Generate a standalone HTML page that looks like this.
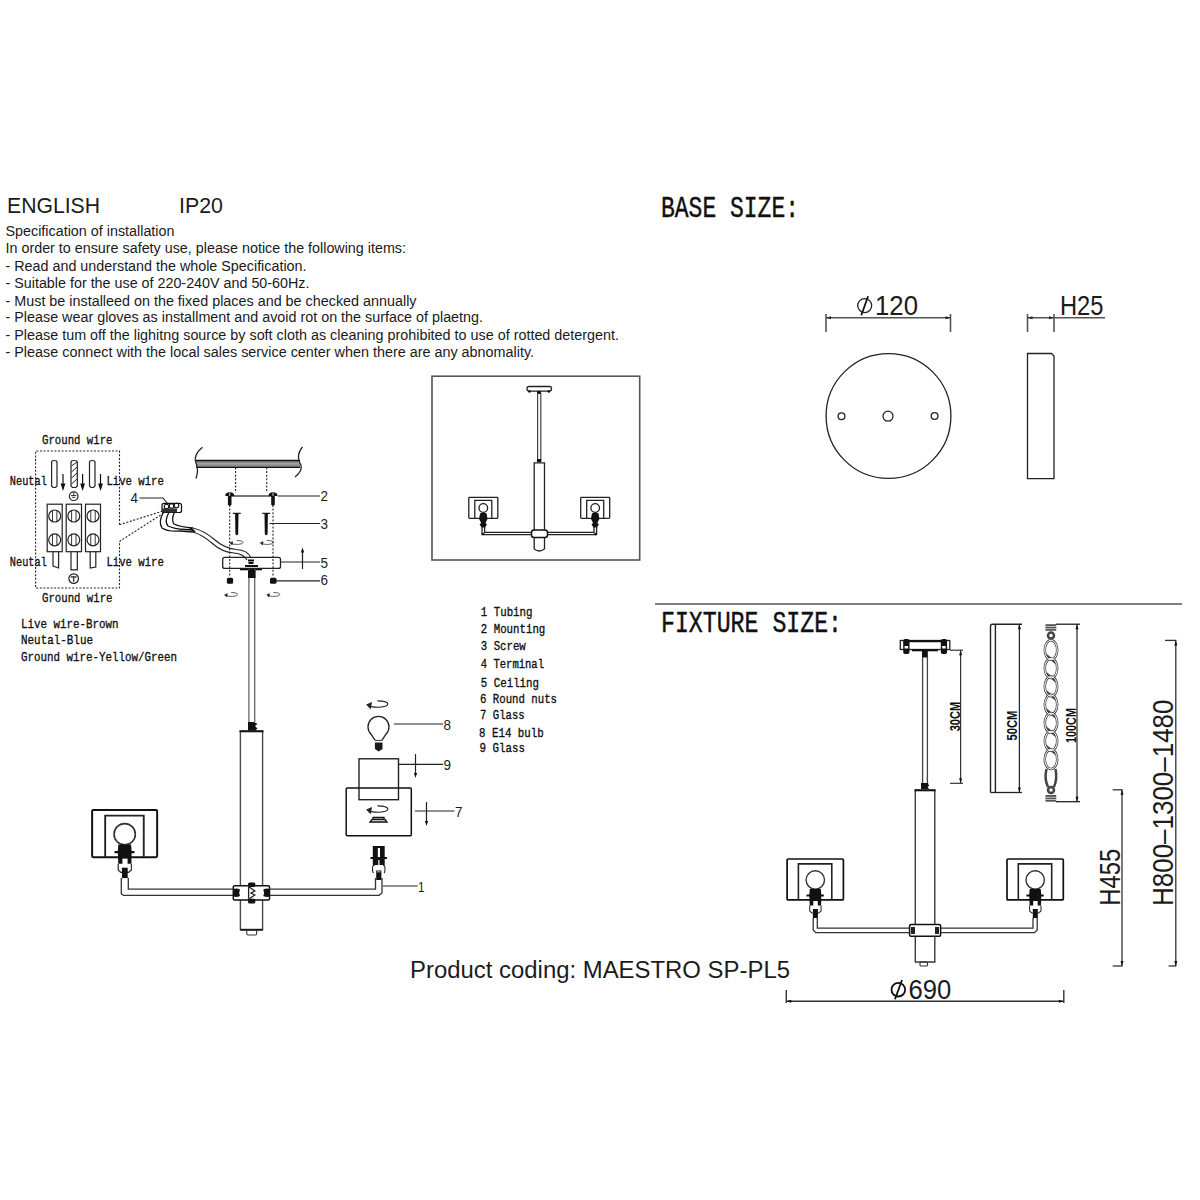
<!DOCTYPE html>
<html><head><meta charset="utf-8">
<style>
html,body{margin:0;padding:0;background:#fff;width:1200px;height:1200px;overflow:hidden}
svg{display:block}
.s{font-family:"Liberation Sans",sans-serif;fill:#1c1c1c}
.m{font-family:"Liberation Mono",monospace;fill:#111;stroke:#111;stroke-width:0.45}
.b{font-family:"Liberation Sans",sans-serif;font-weight:bold;fill:#111}
.mb{font-family:"Liberation Mono",monospace;font-weight:normal;fill:#111;stroke:#111;stroke-width:0.35}
.ln{stroke:#222;stroke-width:1.3;fill:none}
.gl{stroke:#555;stroke-width:1.6;fill:none}
.dt{stroke:#222;stroke-width:1.1;fill:none;stroke-dasharray:2 1.6}
</style></head>
<body>
<svg width="1200" height="1200" viewBox="0 0 1200 1200">
<rect width="1200" height="1200" fill="#fff"/>

<!-- ===== header text block ===== -->
<g class="s">
<text x="7" y="212.5" font-size="22" textLength="93" lengthAdjust="spacingAndGlyphs">ENGLISH</text>
<text x="179" y="212.5" font-size="22" textLength="44" lengthAdjust="spacingAndGlyphs">IP20</text>
<g font-size="14" fill="#1a1a1a">
<text x="5.5" y="236.4" textLength="169" lengthAdjust="spacingAndGlyphs">Specification of installation</text>
<text x="5.5" y="253" textLength="400.5" lengthAdjust="spacingAndGlyphs">In order to ensure safety use, please notice the following items:</text>
<text x="5.5" y="271" textLength="301" lengthAdjust="spacingAndGlyphs">- Read and understand the whole Specification.</text>
<text x="5.5" y="288" textLength="304" lengthAdjust="spacingAndGlyphs">- Suitable for the use of 220-240V and 50-60Hz.</text>
<text x="5.5" y="305.6" textLength="411" lengthAdjust="spacingAndGlyphs">- Must be installeed on the fixed places and be checked annually</text>
<text x="5.5" y="322.4" textLength="477.5" lengthAdjust="spacingAndGlyphs">- Please wear gloves as installment and avoid rot on the surface of plaetng.</text>
<text x="5.5" y="339.5" textLength="613.5" lengthAdjust="spacingAndGlyphs">- Please tum off the lighitng source by soft cloth as cleaning prohibited to use of rotted detergent.</text>
<text x="5.5" y="357" textLength="528.5" lengthAdjust="spacingAndGlyphs">- Please connect with the local sales service center when there are any abnomality.</text>
</g>
</g>

<!-- ===== BASE SIZE ===== -->
<text class="m" x="661" y="217.3" font-size="29" textLength="138" lengthAdjust="spacingAndGlyphs">BASE SIZE:</text>

<!-- base plate top view -->
<g>
<ellipse cx="864.7" cy="305.6" rx="7" ry="7" class="ln" stroke="#111" stroke-width="1.8"/>
<line x1="868.1" y1="296.3" x2="861.3" y2="315.3" stroke="#111" stroke-width="1.8"/>
<text class="s" x="875" y="315.3" font-size="27.8" textLength="43" lengthAdjust="spacingAndGlyphs">120</text>
<line x1="826" y1="317.8" x2="951" y2="317.8" class="gl" stroke-width="1.8"/>
<line x1="826" y1="314" x2="826" y2="332" class="gl" stroke-width="1.6"/>
<line x1="950.5" y1="314" x2="950.5" y2="332" class="gl" stroke-width="1.6"/>
<path d="M826 317.8 l5 -1.5 v3z M950.5 317.8 l-5 -1.5 v3z" fill="#222"/>
<circle cx="888.5" cy="416" r="62.4" class="ln" stroke="#333" stroke-width="1.5"/>
<circle cx="841.5" cy="416.2" r="3.4" class="ln" stroke-width="1.2"/>
<circle cx="888" cy="416.2" r="5" class="ln" stroke-width="1.2"/>
<circle cx="934.6" cy="416" r="3.4" class="ln" stroke-width="1.2"/>
</g>
<!-- base side view -->
<g>
<text class="s" x="1060" y="315.3" font-size="27.5" textLength="43.5" lengthAdjust="spacingAndGlyphs">H25</text>
<line x1="1027.5" y1="317.8" x2="1105" y2="317.8" class="gl" stroke-width="1.8"/>
<line x1="1027.5" y1="314" x2="1027.5" y2="332" class="gl" stroke-width="1.6"/>
<line x1="1054" y1="314" x2="1054" y2="332" class="gl" stroke-width="1.6"/>
<path d="M1027.5 317.8 l5 -1.5 v3z M1054 317.8 l-5 -1.5 v3z" fill="#222"/>
<path d="M1027.5 353.5 H1051.5 L1054 356 V478.6 H1027.5 Z" class="ln" stroke="#333" stroke-width="1.5"/>
</g>

<!-- ===== small installed view box ===== -->
<g>
<rect x="432" y="376.2" width="207.7" height="183.8" class="gl" stroke-width="1.7"/>
<rect x="527" y="386.5" width="24.5" height="4.6" rx="2" class="ln" stroke="#111" stroke-width="1.4"/>
<circle cx="529.5" cy="391.5" r="1.3" fill="#111"/><circle cx="548.8" cy="391.5" r="1.3" fill="#111"/>
<rect x="537" y="391" width="4" height="3" fill="#111"/>
<line x1="537.6" y1="393" x2="537.6" y2="460" stroke="#444" stroke-width="1.2"/>
<line x1="540.8" y1="393" x2="540.8" y2="460" stroke="#444" stroke-width="1.2"/>
<rect x="537" y="459" width="4.3" height="3" fill="#111"/>
<path d="M534.2 549 V462.8 H544.5 V549" class="ln" stroke="#333" stroke-width="1.3"/>
<path d="M534.2 549 Q539.3 553 544.5 549" class="ln" stroke="#111" stroke-width="1.6"/>
<rect x="531.5" y="530" width="16" height="7.5" rx="2.5" fill="#fff" stroke="#111" stroke-width="1.5"/>
<!-- arms -->
<path d="M482 527 V534.6 H531.5 M547.5 534.6 H596.6 V527 M484.6 527 V532.4 H531.5 M547.5 532.4 H594 V527" class="ln" stroke="#555" stroke-width="1.1"/>
<circle cx="483.3" cy="534" r="1.2" fill="#111"/><circle cx="595.3" cy="534" r="1.2" fill="#111"/>
<!-- left shade -->
<rect x="468.8" y="497.3" width="29" height="21" rx="0.8" class="ln" stroke="#111" stroke-width="2"/>
<path d="M474.8 518 V500.3 H491.8 V518" class="ln" stroke="#222" stroke-width="1.7"/>
<circle cx="483.3" cy="508" r="4.3" class="ln" stroke="#111" stroke-width="1.3"/>
<path d="M480 513.5 Q483.3 511.5 486.6 513.5 L487.5 519 L486.2 521.5 L485.5 523 L487 524.5 L485 527.5 H481.6 L479.6 524.5 L481.1 523 L480.4 521.5 L479.1 519 Z" fill="#111"/>
<!-- right shade -->
<rect x="580.7" y="497.3" width="29" height="21" rx="0.8" class="ln" stroke="#111" stroke-width="2"/>
<path d="M586.7 518 V500.3 H603.7 V518" class="ln" stroke="#222" stroke-width="1.7"/>
<circle cx="595.2" cy="508" r="4.3" class="ln" stroke="#111" stroke-width="1.3"/>
<path d="M591.9 513.5 Q595.2 511.5 598.5 513.5 L599.4 519 L598.1 521.5 L597.4 523 L598.9 524.5 L596.9 527.5 H593.5 L591.5 524.5 L593 523 L592.3 521.5 L591 519 Z" fill="#111"/>
</g>

<!-- ===== FIXTURE SIZE ===== -->
<line x1="655" y1="604" x2="1182" y2="604" class="gl" stroke-width="1.8"/>
<text class="m" x="661" y="632.3" font-size="29" textLength="181" lengthAdjust="spacingAndGlyphs">FIXTURE SIZE:</text>

<defs>
<!-- shade+socket symbol, origin at bulb centre, fixture-size scale -->
<g id="shade">
<rect x="-28.2" y="-21" width="56.3" height="40.9" rx="1" fill="none" stroke="#111" stroke-width="1.7"/>
<path d="M-16.9 19.9 V-16.1 H16.5 V19.9" fill="none" stroke="#222" stroke-width="1.6"/>
<circle cx="0" cy="0" r="9.2" fill="none" stroke="#333" stroke-width="1.4"/>
<use href="#sock"/>
</g>
<g id="sock">
<path d="M-5.5 9 H5.5 L6 14.5 H8.5 V16.5 H6 L5.8 25.5 H2.5 V21 H-2 V25.5 H-5.6 L-5.9 16.5 H-8.8 V14.5 H-6 Z" fill="#111"/>
<path d="M-5.6 25.5 V31 L-3.5 33 H3.5 L5.8 31 V25.5" fill="none" stroke="#333" stroke-width="1.1"/>
<rect x="-2.4" y="29" width="5" height="9" fill="#111"/>
</g>
</defs>

<!-- ===== fixture-size drawing ===== -->
<g>
<!-- canopy -->
<rect x="900.3" y="640.5" width="49.5" height="9" fill="none" stroke="#222" stroke-width="1.3"/>
<line x1="905" y1="641.2" x2="945" y2="641.2" stroke="#111" stroke-width="2.2"/>
<line x1="912" y1="650.3" x2="938" y2="650.3" stroke="#111" stroke-width="2"/>
<rect x="903.2" y="639" width="6.3" height="15" rx="2" fill="#111"/>
<rect x="940.8" y="639" width="6.3" height="15" rx="2" fill="#111"/>
<rect x="904.6" y="646" width="3.5" height="2.5" fill="#fff"/>
<rect x="942.2" y="646" width="3.5" height="2.5" fill="#fff"/>
<rect x="922" y="650" width="5.8" height="7.5" fill="#111"/>
<!-- rod -->
<line x1="922.6" y1="657" x2="922.6" y2="784" stroke="#444" stroke-width="1.3"/>
<line x1="927.4" y1="657" x2="927.4" y2="784" stroke="#444" stroke-width="1.3"/>
<path d="M921 783 H928 L929 786 L927.5 787 L929 789 H921 Z" fill="#111"/>
<!-- tube -->
<path d="M915.3 962 V790.3 H934.8 V962 Z" fill="none" stroke="#3a3a3a" stroke-width="1.4"/>
<line x1="914.5" y1="790.3" x2="935.5" y2="790.3" stroke="#111" stroke-width="2"/>
<rect x="920" y="962" width="7.5" height="4" rx="1" fill="none" stroke="#333" stroke-width="1.1"/>
<!-- arms -->
<path d="M813.2 918 V930 L815.8 932.6 H909.5 M940.8 932.6 H1034.5 L1037.2 930 V918" fill="none" stroke="#333" stroke-width="1.3"/>
<path d="M817.3 918 V928.2 H909.5 M940.8 928.2 H1033 V918" fill="none" stroke="#333" stroke-width="1.3"/>
<!-- collar -->
<rect x="909.6" y="924.6" width="31" height="11.6" rx="1.2" fill="#fff" stroke="#111" stroke-width="1.5"/>
<rect x="911" y="927" width="4" height="7" fill="#222"/>
<rect x="935" y="927" width="4" height="7" fill="#222"/>
<use href="#shade" transform="translate(815.3 880)"/>
<use href="#shade" transform="translate(1035.2 880)"/>
</g>
<!-- 30CM dim -->
<g>
<line x1="950" y1="650.2" x2="963" y2="650.2" stroke="#333" stroke-width="1.2"/>
<line x1="950" y1="783.3" x2="963" y2="783.3" stroke="#333" stroke-width="1.2"/>
<line x1="960.6" y1="650.2" x2="960.6" y2="783.3" stroke="#333" stroke-width="1.2"/>
<path d="M960.6 650.2 l-1.5 5 h3z M960.6 783.3 l-1.5 -5 h3z" fill="#111"/>
<text class="b" font-size="15" transform="translate(960 731.3) rotate(-90)" textLength="29.5" lengthAdjust="spacingAndGlyphs">30CM</text>
</g>
<!-- 50CM rod -->
<g>
<path d="M990.5 792.5 V626 Q990.5 624.2 992.3 624.2 H1022" fill="none" stroke="#222" stroke-width="1.4"/>
<line x1="995.4" y1="624.2" x2="995.4" y2="792.5" stroke="#222" stroke-width="1.4"/>
<line x1="990.5" y1="792.5" x2="1022" y2="792.5" stroke="#222" stroke-width="1.3"/>
<line x1="1019.4" y1="624.2" x2="1019.4" y2="792.5" stroke="#222" stroke-width="1.2"/>
<path d="M1019.4 624.2 l-1.5 5 h3z M1019.4 792.5 l-1.5 -5 h3z" fill="#111"/>
<text class="b" font-size="15" transform="translate(1017 740.6) rotate(-90)" textLength="30" lengthAdjust="spacingAndGlyphs">50CM</text>
</g>
<!-- chain -->
<g>
<rect x="1045.5" y="624.2" width="10.7" height="6.6" fill="#555"/>
<line x1="1045.5" y1="626.5" x2="1056.2" y2="626.5" stroke="#ddd" stroke-width="0.8"/>
<line x1="1045.5" y1="628.7" x2="1056.2" y2="628.7" stroke="#ddd" stroke-width="0.8"/>
<line x1="1056" y1="624.2" x2="1080" y2="624.2" stroke="#222" stroke-width="1.3"/>
<rect x="1045.5" y="795" width="10.7" height="6.7" fill="#555"/>
<line x1="1045.5" y1="797.3" x2="1056.2" y2="797.3" stroke="#ddd" stroke-width="0.8"/>
<line x1="1045.5" y1="799.5" x2="1056.2" y2="799.5" stroke="#ddd" stroke-width="0.8"/>
<line x1="1056" y1="801.7" x2="1080" y2="801.7" stroke="#222" stroke-width="1.3"/>
<g fill="none" stroke="#444" stroke-width="2.5">
<circle cx="1051" cy="635.5" r="3"/>
<circle cx="1051" cy="790" r="3"/>
<ellipse cx="1051" cy="650.0" rx="6.2" ry="9.8"/><ellipse cx="1051" cy="668.2" rx="6.2" ry="9.8"/><ellipse cx="1051" cy="686.4" rx="6.2" ry="9.8"/><ellipse cx="1051" cy="704.6" rx="6.2" ry="9.8"/><ellipse cx="1051" cy="722.8" rx="6.2" ry="9.8"/><ellipse cx="1051" cy="741.0" rx="6.2" ry="9.8"/><ellipse cx="1051" cy="759.2" rx="6.2" ry="9.8"/>
<path d="M1046.5 769 Q1044 779 1048 787 M1055.5 769 Q1057.5 779 1054 787"/>
<path d="M1046 655.0 L1056 663.0"/><path d="M1046 673.2 L1056 681.2"/><path d="M1046 691.4 L1056 699.4"/><path d="M1046 709.6 L1056 717.6"/><path d="M1046 727.8 L1056 735.8"/><path d="M1046 746.0 L1056 754.0"/>
</g>
<g fill="none" stroke="#fff" stroke-width="1">
<ellipse cx="1051" cy="650.0" rx="6.2" ry="9.8"/><ellipse cx="1051" cy="668.2" rx="6.2" ry="9.8"/><ellipse cx="1051" cy="686.4" rx="6.2" ry="9.8"/><ellipse cx="1051" cy="704.6" rx="6.2" ry="9.8"/><ellipse cx="1051" cy="722.8" rx="6.2" ry="9.8"/><ellipse cx="1051" cy="741.0" rx="6.2" ry="9.8"/><ellipse cx="1051" cy="759.2" rx="6.2" ry="9.8"/>
</g>
<line x1="1077" y1="624.2" x2="1077" y2="801.7" stroke="#222" stroke-width="1.2"/>
<path d="M1077 624.2 l-1.5 5 h3z M1077 801.7 l-1.5 -5 h3z" fill="#111"/>
<text class="b" font-size="15" transform="translate(1075.7 743) rotate(-90)" textLength="35" lengthAdjust="spacingAndGlyphs">100CM</text>
</g>
<!-- H455 / H800 dims -->
<g>
<line x1="1122" y1="789.8" x2="1122" y2="966" stroke="#333" stroke-width="1.3"/>
<line x1="1112.7" y1="789.8" x2="1122.5" y2="789.8" stroke="#333" stroke-width="1.3"/>
<line x1="1112.7" y1="966" x2="1122.5" y2="966" stroke="#333" stroke-width="1.3"/>
<path d="M1122 789.8 l-1.5 5 h3z M1122 966 l-1.5 -5 h3z" fill="#111"/>
<text class="s" font-size="29" transform="translate(1119.6 905.8) rotate(-90)" textLength="57" lengthAdjust="spacingAndGlyphs">H455</text>
<line x1="1175.8" y1="640.4" x2="1175.8" y2="966" stroke="#333" stroke-width="1.3"/>
<line x1="1165" y1="640.4" x2="1176.3" y2="640.4" stroke="#333" stroke-width="1.3"/>
<line x1="1168.6" y1="966" x2="1176.3" y2="966" stroke="#333" stroke-width="1.3"/>
<path d="M1175.8 640.4 l-1.5 5 h3z M1175.8 966 l-1.5 -5 h3z" fill="#111"/>
<text class="s" font-size="29" transform="translate(1173.2 906) rotate(-90)" textLength="206.5" lengthAdjust="spacingAndGlyphs">H800–1300–1480</text>
</g>
<!-- D690 dim -->
<g>
<line x1="786.3" y1="1001.3" x2="1063.8" y2="1001.3" stroke="#333" stroke-width="1.4"/>
<line x1="786.3" y1="990" x2="786.3" y2="1003" stroke="#333" stroke-width="1.4"/>
<line x1="1063.8" y1="990" x2="1063.8" y2="1003" stroke="#333" stroke-width="1.4"/>
<path d="M786.3 1001.3 l5 -1.5 v3z M1063.8 1001.3 l-5 -1.5 v3z" fill="#111"/>
<ellipse cx="898.3" cy="989.7" rx="6.8" ry="6.8" fill="none" stroke="#111" stroke-width="1.8"/>
<line x1="902" y1="980" x2="895" y2="999.3" stroke="#111" stroke-width="1.8"/>
<text class="s" x="908.5" y="999.2" font-size="28.3" textLength="42.8" lengthAdjust="spacingAndGlyphs">690</text>
</g>

<!-- ===== wiring diagram ===== -->
<g>
<g class="mb" font-size="13.5" fill="#111">
<text x="42" y="444" textLength="70.5" lengthAdjust="spacingAndGlyphs">Ground wire</text>
<text x="42" y="601.5" textLength="70.5" lengthAdjust="spacingAndGlyphs">Ground wire</text>
<text x="9.8" y="484.8" textLength="37" lengthAdjust="spacingAndGlyphs">Neutal</text>
<text x="106.4" y="484.8" textLength="57.5" lengthAdjust="spacingAndGlyphs">Live wire</text>
<text x="9.8" y="566" textLength="37" lengthAdjust="spacingAndGlyphs">Neutal</text>
<text x="106.4" y="566" textLength="57.5" lengthAdjust="spacingAndGlyphs">Live wire</text>
<text x="21" y="627.6" textLength="97.5" lengthAdjust="spacingAndGlyphs">Live wire-Brown</text>
<text x="21" y="644.4" textLength="72" lengthAdjust="spacingAndGlyphs">Neutal-Blue</text>
<text x="21" y="660.5" textLength="156" lengthAdjust="spacingAndGlyphs">Ground wire-Yellow/Green</text>
</g>
<path d="M119.5 524.7 V451 H35.6 V588 H119.5 V541.4" class="dt"/>
<path d="M119.5 524.7 L163 511 M119.5 541.4 L163 513.5" class="dt"/>
<!-- upper wire ends -->
<g fill="none" stroke="#222" stroke-width="1.2">
<path d="M51.6 486 V462 Q51.6 460.5 54.3 460.5 Q57 460.5 57 462 V486 L55.5 487.5 H53 Z"/>
<path d="M71 486 V462 Q71 460.5 74.1 460.5 Q77.3 460.5 77.3 462 V486 L75.8 487.5 H72.5 Z"/>
<path d="M89.5 486 V462 Q89.5 460.5 92.3 460.5 Q95 460.5 95 462 V486 L93.5 487.5 H91 Z"/>
<path d="M71.5 466 L77 462 M71.5 472 L77 467 M71.5 478 L77 473 M71.5 484 L77 479" stroke-width="1"/>
<circle cx="73.7" cy="496.2" r="4.3"/>
<path d="M71 495.5 h5.4 M72 497.3 h3.4 M73.7 492.5 v3" stroke-width="0.9"/>
<circle cx="73.7" cy="578.6" r="4.8"/>
<path d="M70.8 576.8 h5.8 M73.7 576.8 v5" stroke-width="1.2"/>
<!-- terminal blocks -->
<rect x="47.2" y="504.2" width="15" height="47.5"/>
<rect x="66.2" y="504.2" width="15.3" height="47.5"/>
<rect x="85.5" y="504.2" width="15" height="47.5"/>
<circle cx="54.7" cy="516" r="6"/><circle cx="54.7" cy="539.8" r="6"/>
<circle cx="73.8" cy="516" r="6"/><circle cx="73.8" cy="539.8" r="6"/>
<circle cx="93" cy="516" r="6"/><circle cx="93" cy="539.8" r="6"/>
<path d="M52.5 510 v12 M56.9 510 v12 M52.5 533.8 v12 M56.9 533.8 v12 M71.6 510 v12 M76 510 v12 M71.6 533.8 v12 M76 533.8 v12 M90.8 510 v12 M95.2 510 v12 M90.8 533.8 v12 M95.2 533.8 v12" stroke-width="0.9"/>
<!-- lower wire stubs -->
<path d="M53 551.7 V566 L58.6 568 V551.7"/>
<path d="M71 551.7 V569.8 H77.3 V551.7"/>
<path d="M90.2 551.7 V568 L95.8 567 V551.7"/>
</g>
<!-- arrows -->
<g stroke="#111" stroke-width="1.2" fill="#111">
<line x1="63" y1="474" x2="63" y2="487"/><path d="M63 489 l-1.6 -5 h3.2z"/>
<line x1="82.6" y1="474" x2="82.6" y2="487"/><path d="M82.6 489 l-1.6 -5 h3.2z"/>
<line x1="100.5" y1="474" x2="100.5" y2="487"/><path d="M100.5 489 l-1.6 -5 h3.2z"/>
</g>
</g>

<!-- ===== installation diagram ===== -->
<g>
<!-- ceiling -->
<rect x="196" y="460.8" width="104" height="6.4" fill="#8a8a8a"/><line x1="196" y1="460.5" x2="300" y2="460.5" stroke="#111" stroke-width="1.6"/><line x1="196" y1="467.4" x2="300" y2="467.4" stroke="#111" stroke-width="1.3"/><line x1="196" y1="463.9" x2="300" y2="463.9" stroke="#bbb" stroke-width="0.8"/>
<path d="M202.5 447.3 Q193 455 196 463 Q199 470 196 478.5 M302.5 447 Q296 455 300 463 Q304 470 295 477" fill="none" stroke="#222" stroke-width="1.3"/>
<!-- dotted guides -->
<path d="M235.6 467.5 V493 M266.7 467.5 V493 M229.7 505 V577 M273 505 V577" class="dt" stroke-width="1"/>
<!-- mounting bar 2 -->
<line x1="230" y1="496" x2="273" y2="496" stroke="#777" stroke-width="2.2"/>
<path d="M225.2 496 Q225.2 492.3 229.7 492.3 Q234.2 492.3 234.2 496 Z" fill="#111"/><path d="M227.89999999999998 495.5 H231.5 V504.5 Q229.7 507 227.89999999999998 504.5 Z" fill="#111"/><line x1="229.7" y1="493" x2="229.7" y2="496" stroke="#fff" stroke-width="0.8"/>
<path d="M268.5 496 Q268.5 492.3 273 492.3 Q277.5 492.3 277.5 496 Z" fill="#111"/><path d="M271.2 495.5 H274.8 V504.5 Q273 507 271.2 504.5 Z" fill="#111"/><line x1="273" y1="493" x2="273" y2="496" stroke="#fff" stroke-width="0.8"/>
<line x1="277.8" y1="496" x2="320" y2="496" stroke="#222" stroke-width="1.2"/>
<!-- screws 3 -->
<path d="M232.8 513.4 H240.8 M262.2 513.4 H270.2" stroke="#222" stroke-width="1.3"/>
<path d="M235.10000000000002 513.5 H238.5 L238.20000000000002 534 Q236.8 536.5 235.4 534 Z" fill="#111"/>
<path d="M264.5 513.5 H267.9 L267.59999999999997 534 Q266.2 536.5 264.8 534 Z" fill="#111"/>
<line x1="269.5" y1="523.5" x2="320" y2="523.5" stroke="#222" stroke-width="1.2"/>
<!-- rotation marks -->
<g fill="none" stroke="#222" stroke-width="1.1"><g transform="translate(230 543) scale(0.6)"><path d="M2 0.5 Q5 2.6 13 2.4 Q22 2 22 -1.2 Q21.5 -4 11 -4.3" fill="none" stroke="#222" stroke-width="1.2"/><path d="M0 -0.3 L4.5 -2.2 L3.6 3.3 Z" fill="#222"/></g><g transform="translate(260.3 543) scale(0.6)"><path d="M2 0.5 Q5 2.6 13 2.4 Q22 2 22 -1.2 Q21.5 -4 11 -4.3" fill="none" stroke="#222" stroke-width="1.2"/><path d="M0 -0.3 L4.5 -2.2 L3.6 3.3 Z" fill="#222"/></g><g transform="translate(224.6 595) scale(0.6)"><path d="M2 0.5 Q5 2.6 13 2.4 Q22 2 22 -1.2 Q21.5 -4 11 -4.3" fill="none" stroke="#222" stroke-width="1.2"/><path d="M0 -0.3 L4.5 -2.2 L3.6 3.3 Z" fill="#222"/></g><g transform="translate(266.8 595) scale(0.6)"><path d="M2 0.5 Q5 2.6 13 2.4 Q22 2 22 -1.2 Q21.5 -4 11 -4.3" fill="none" stroke="#222" stroke-width="1.2"/><path d="M0 -0.3 L4.5 -2.2 L3.6 3.3 Z" fill="#222"/></g></g>
<!-- canopy 5 -->
<rect x="222.7" y="557.4" width="57.8" height="11" rx="2" fill="none" stroke="#222" stroke-width="1.3"/>
<path d="M245 566 H258 M248.5 563 h5 M248 560.5 h6" stroke="#111" stroke-width="2"/>
<line x1="240" y1="569.5" x2="262" y2="569.5" stroke="#111" stroke-width="1.6"/>
<line x1="280.5" y1="562" x2="320" y2="562" stroke="#222" stroke-width="1.2"/>
<line x1="302.5" y1="550" x2="302.5" y2="569" stroke="#222" stroke-width="1.2"/>
<path d="M302.5 547.5 l-1.6 5 h3.2z" fill="#111"/>
<!-- nuts 6 -->
<rect x="226.9" y="577.8" width="6.2" height="6" rx="1.5" fill="#111"/>
<rect x="270" y="577.8" width="6.5" height="6" rx="1.5" fill="#111"/>
<line x1="276" y1="580.8" x2="320" y2="580.8" stroke="#222" stroke-width="1.2"/>
<!-- numbers -->
<g class="s" font-size="14" fill="#111">
<text x="320.5" y="501" textLength="7.5" lengthAdjust="spacingAndGlyphs">2</text>
<text x="320.5" y="529" textLength="7.5" lengthAdjust="spacingAndGlyphs">3</text>
<text x="320.5" y="567.5" textLength="7.5" lengthAdjust="spacingAndGlyphs">5</text>
<text x="320.5" y="585" textLength="7.5" lengthAdjust="spacingAndGlyphs">6</text>
<text x="130.5" y="502.5" textLength="7.5" lengthAdjust="spacingAndGlyphs">4</text>
</g>
<!-- terminal 4 -->
<path d="M139.5 498 H163 L168 504" fill="none" stroke="#222" stroke-width="1.1"/>
<rect x="162" y="503.3" width="19.5" height="9.2" rx="2" fill="#fff" stroke="#111" stroke-width="1.2"/>
<circle cx="166.5" cy="506.5" r="2.3" fill="none" stroke="#111" stroke-width="1.1"/>
<circle cx="171.5" cy="506" r="2.3" fill="none" stroke="#111" stroke-width="1.1"/>
<circle cx="176.5" cy="505.5" r="2.3" fill="none" stroke="#111" stroke-width="1.1"/>
<rect x="162" y="508.5" width="15" height="4" fill="#333"/>
<!-- wires -->
<g fill="none" stroke="#111" stroke-width="1.3">
<path d="M163.5 512 Q158 522 162 528 Q168 532 180 531 L193 532"/>
<path d="M169 512 Q164 522 168 526 Q174 529 185 529.5 L193 530"/>
<path d="M174.5 512 Q171 520 174 524 Q180 527 193 528"/>
<path d="M193 528 Q205 531 215 540 Q224 548 236 549.5 Q248 550 251 558" stroke="#222" stroke-width="1.1"/>
<path d="M193 532 Q203 535 213 544 Q222 552 234 553 Q244 554 247 560" stroke="#222" stroke-width="1.1"/>
</g>
<line x1="190" y1="528" x2="195" y2="532" stroke="#111" stroke-width="2"/>
</g>

<!-- ===== main exploded fixture ===== -->
<g>
<line x1="248.9" y1="569" x2="248.9" y2="722" stroke="#666" stroke-width="1.3"/>
<line x1="254.7" y1="569" x2="254.7" y2="722" stroke="#666" stroke-width="1.3"/>
<rect x="248" y="570" width="7.5" height="8" fill="#111"/>
<path d="M248 722 H254 L257.5 724 L255 726 L257.5 728.5 L255 730.7 H248 Z" fill="#111"/>
<path d="M240.4 929.7 V731.3 H262.6 V929.7 Z" fill="none" stroke="#4a4a4a" stroke-width="1.4"/>
<line x1="239.5" y1="731.3" x2="263.5" y2="731.3" stroke="#111" stroke-width="2"/>
<line x1="240.4" y1="929.7" x2="262.6" y2="929.7" stroke="#111" stroke-width="1.8"/>
<rect x="246.7" y="930" width="10" height="5" rx="1.5" fill="none" stroke="#333" stroke-width="1.1"/>
<!-- arms -->
<path d="M121.3 878 V894 L123.5 895.3 H233.3 M269.5 895.3 H379 L382 893 V878" fill="none" stroke="#333" stroke-width="1.3"/>
<path d="M128.3 878 V889.2 H233.3 M269.5 889.2 H375.5 V878" fill="none" stroke="#333" stroke-width="1.3"/>
<!-- collar -->
<rect x="233.3" y="885.8" width="36.2" height="14.2" rx="1.3" fill="#fff" stroke="#111" stroke-width="1.5"/>
<path d="M233.5 889 Q237 888 240 889.5 Q238.5 892.5 240 896 Q237 897.5 233.5 896.5 Z" fill="#111"/>
<path d="M269.8 889 Q266.3 888 263.3 889.5 Q264.8 892.5 263.3 896 Q266.3 897.5 269.8 896.5 Z" fill="#111"/>
<rect x="248" y="882.5" width="7.3" height="4.5" rx="1.5" fill="#111"/>
<rect x="248" y="898.8" width="7.3" height="4.7" rx="1.5" fill="#111"/>
<path d="M248.6 887 V898.8 M249.2 887 L254.8 891 L251 893 L254.8 895 L249.2 898.8" fill="none" stroke="#222" stroke-width="1.3"/>
<use href="#shade" transform="translate(124.7 834.2) scale(1.155)"/>
<path d="M372.8 846 H384.7 V857 H387 V859 H384.7 V866 H372.8 V859 H370.5 V857 H372.8 Z" fill="#111"/>
<rect x="377.8" y="848" width="2.2" height="9" fill="#fff"/><rect x="378.3" y="860" width="1.2" height="5" fill="#fff"/>
<path d="M372.8 866 Q372 872 373.5 873 M384.7 866 Q385.5 872 384 873" fill="none" stroke="#222" stroke-width="1.1"/>
<rect x="374.5" y="865" width="8.6" height="3.5" fill="#fff"/>
<rect x="376.2" y="870.5" width="5.2" height="9.5" fill="#111"/>
<rect x="377" y="871" width="3.6" height="1.5" fill="#888"/>
<!-- exploded glass 7 & 9 -->
<rect x="346.2" y="788" width="65.1" height="47.8" rx="1" fill="none" stroke="#111" stroke-width="1.5"/>
<rect x="359" y="758.8" width="39.5" height="40.9" fill="none" stroke="#222" stroke-width="1.4"/>
<path d="M370 822 H387 L385 819.5 H372 Z M373 819.5 v-2 h11 v2" fill="none" stroke="#111" stroke-width="1.3"/>
<g fill="none" stroke="#222" stroke-width="1.1">
<g transform="translate(367.0 810.0) scale(0.95)"><path d="M2 0.5 Q5 2.6 13 2.4 Q22 2 22 -1.2 Q21.5 -4 11 -4.3" fill="none" stroke="#222" stroke-width="1.2"/><path d="M0 -0.3 L4.5 -2.2 L3.6 3.3 Z" fill="#222"/></g><g transform="translate(367.0 705.0) scale(0.95)"><path d="M2 0.5 Q5 2.6 13 2.4 Q22 2 22 -1.2 Q21.5 -4 11 -4.3" fill="none" stroke="#222" stroke-width="1.2"/><path d="M0 -0.3 L4.5 -2.2 L3.6 3.3 Z" fill="#222"/></g>
</g>
<!-- bulb 8 -->
<path d="M375 740.2 L371.2 734.5 A10.5 10.5 0 1 1 385.8 734.5 L382 740.2" fill="none" stroke="#222" stroke-width="1.3"/>
<path d="M374.9 742.5 H382.5 V749 L378.7 751.5 L374.9 749 Z" fill="#1a1a1a"/>
<line x1="375" y1="740.4" x2="382.4" y2="740.4" stroke="#333" stroke-width="1"/>
<!-- leaders -->
<g stroke="#222" stroke-width="1.2">
<line x1="393.9" y1="724" x2="443.3" y2="724"/>
<line x1="398.5" y1="764.3" x2="443" y2="764.3"/>
<line x1="415" y1="811" x2="454.4" y2="811"/>
<line x1="383" y1="886" x2="417.8" y2="886"/>
<line x1="415.5" y1="754" x2="415.5" y2="775"/>
<line x1="426.5" y1="802" x2="426.5" y2="823"/>
</g>
<path d="M415.5 778 l-1.6 -5 h3.2z M426.5 826 l-1.6 -5 h3.2z" fill="#111"/>
<g class="s" font-size="14" fill="#111">
<text x="443.5" y="729.5" textLength="7.5" lengthAdjust="spacingAndGlyphs">8</text>
<text x="443.5" y="770" textLength="7.5" lengthAdjust="spacingAndGlyphs">9</text>
<text x="455" y="816.5" textLength="7.5" lengthAdjust="spacingAndGlyphs">7</text>
<text x="418" y="891.5" textLength="6.5" lengthAdjust="spacingAndGlyphs">1</text>
</g>
</g>

<!-- ===== parts list ===== -->
<g class="mb" font-size="13" fill="#111">
<text x="480.8" y="615.8" textLength="51.7" lengthAdjust="spacingAndGlyphs">1 Tubing</text>
<text x="480.8" y="633.3" textLength="64.5" lengthAdjust="spacingAndGlyphs">2 Mounting</text>
<text x="480.8" y="650" textLength="45" lengthAdjust="spacingAndGlyphs">3 Screw</text>
<text x="480.8" y="667.5" textLength="63.2" lengthAdjust="spacingAndGlyphs">4 Terminal</text>
<text x="480.8" y="686.7" textLength="58.2" lengthAdjust="spacingAndGlyphs">5 Ceiling</text>
<text x="480" y="702.5" textLength="77" lengthAdjust="spacingAndGlyphs">6 Round nuts</text>
<text x="480" y="719" textLength="44.7" lengthAdjust="spacingAndGlyphs">7 Glass</text>
<text x="479" y="736.7" textLength="64.7" lengthAdjust="spacingAndGlyphs">8 E14 bulb</text>
<text x="479.5" y="751.7" textLength="45.5" lengthAdjust="spacingAndGlyphs">9 Glass</text>
</g>

<!-- ===== Product coding ===== -->
<text class="s" x="410" y="977.5" font-size="23.5" textLength="380" lengthAdjust="spacingAndGlyphs">Product coding: MAESTRO SP-PL5</text>

</svg>
</body></html>
